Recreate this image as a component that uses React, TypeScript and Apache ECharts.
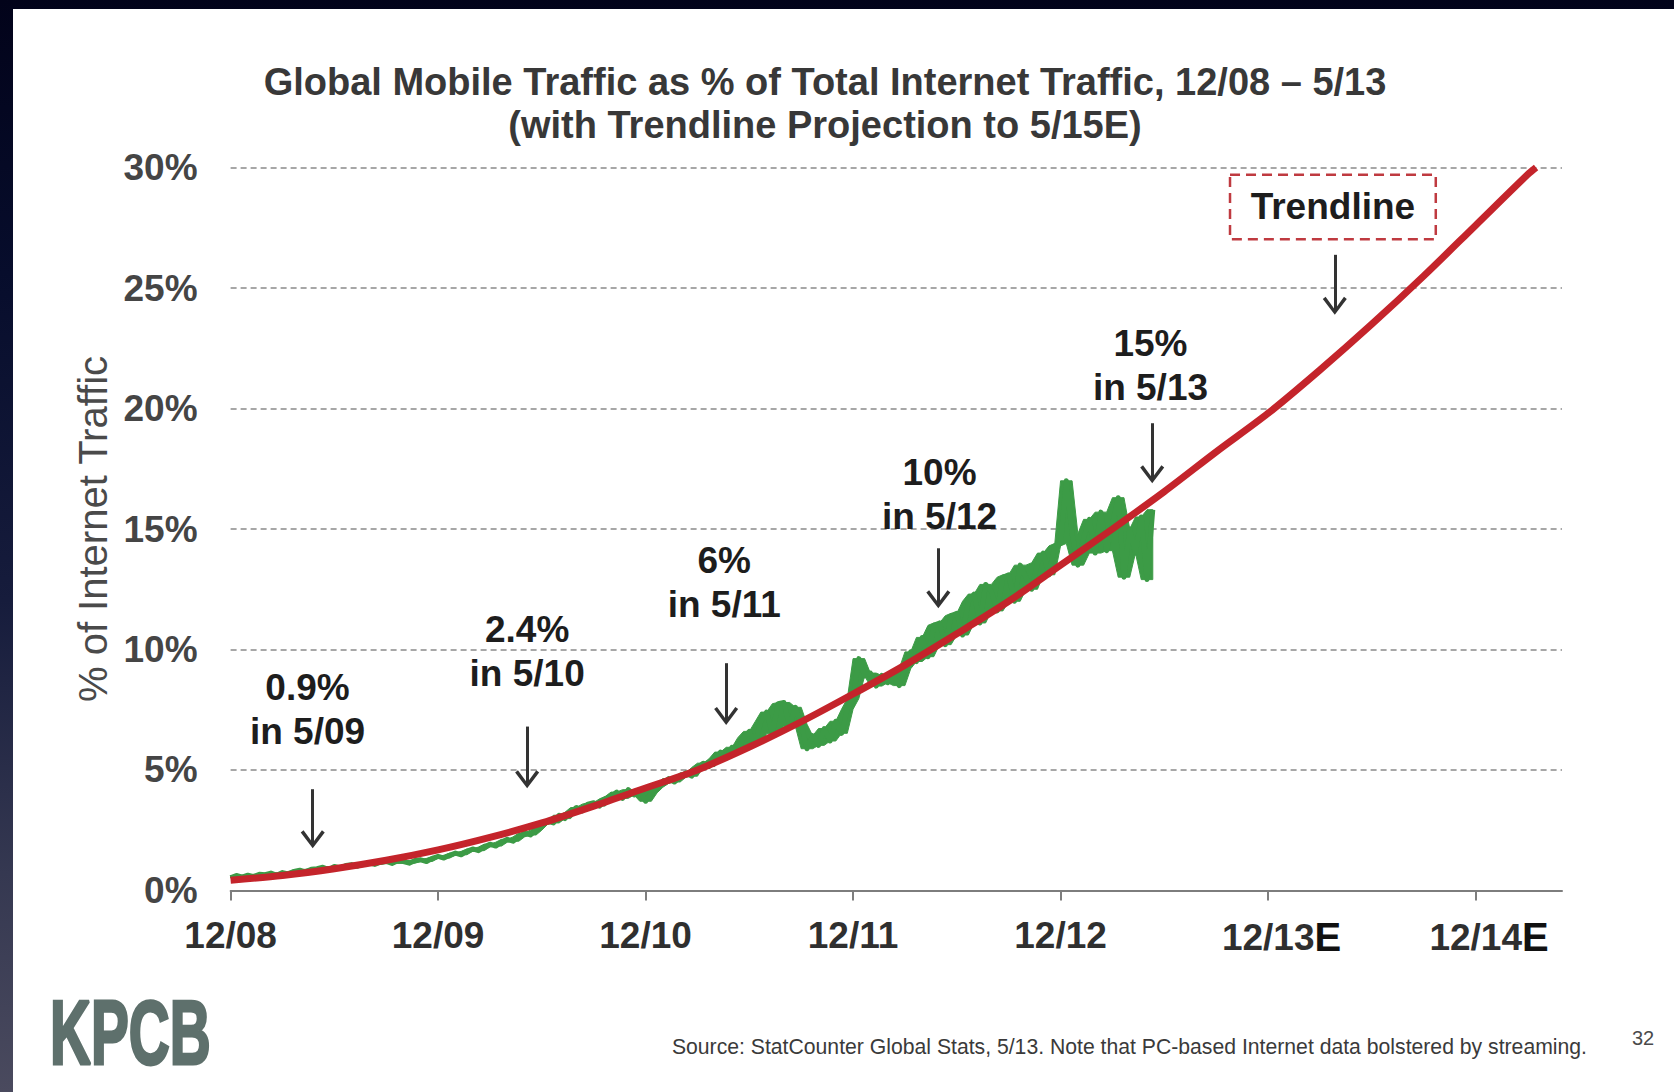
import React, { useEffect, useRef } from 'react';
import * as echarts from 'echarts';

const FONT = '"Liberation Sans", Arial, Helvetica, sans-serif';

// ---------- texts ----------
const TITLE_LINES = [
  'Global Mobile Traffic as % of Total Internet Traffic, 12/08 \u2013 5/13',
  '(with Trendline Projection to 5/15E)',
];
const Y_AXIS_NAME = '% of Internet Traffic';
const SOURCE_TEXT =
  'Source: StatCounter Global Stats, 5/13. Note that PC-based Internet data bolstered by streaming.';
const PAGE_NUMBER = '32';
const LOGO_TEXT = 'KPCB';
const TRENDLINE_TEXT = 'Trendline';

// ---------- axes (x in months since 12/08) ----------
const X_MIN_MONTH = 0;
const X_MAX_MONTH = 77; // 5/15
const X_TICK_MONTHS = [0, 12, 24, 36, 48, 60, 72];
const X_TICK_LABELS = ['12/08', '12/09', '12/10', '12/11', '12/12', '12/13', '12/14'];
const X_TICK_ESTIMATE = [false, false, false, false, false, true, true];
const Y_MIN = 0;
const Y_MAX = 30;
const Y_STEP = 5;

// ---------- actual mobile share (%), sampled every ~10 days from 12/08 ----------
const GREEN_START_MONTH = 0;
const GREEN_STEP_MONTHS = 1 / 3;
const GREEN_VALUES = [
  0.52, 0.62, 0.55, 0.63, 0.57, 0.67, 0.65, 0.72, 0.63, 0.74, 0.68, 0.79,
  0.84, 0.77, 0.88, 0.9, 0.96, 0.86, 0.99, 0.93, 1.03, 1.07, 1.0, 1.1,
  1.14, 1.08, 1.17, 1.2, 1.12, 1.23, 1.2, 1.13, 1.24, 1.27, 1.2, 1.33,
  1.41, 1.34, 1.46, 1.55, 1.48, 1.62, 1.72, 1.65, 1.8, 1.92, 1.84, 2.0,
  2.12, 2.04, 2.22, 2.38, 2.3, 2.5, 2.74, 2.88, 2.8, 3.12, 2.98, 3.24,
  3.44, 3.3, 3.58, 3.64, 3.5, 3.8, 3.9, 4.08, 3.82, 4.18, 3.96, 4.14,
  3.7, 4.05, 4.28, 4.44, 4.64, 4.5, 4.7, 4.88, 4.74, 5.1, 5.28, 5.14,
  5.46, 5.74, 5.5, 5.94, 5.74, 6.34, 6.6, 6.1, 7.0, 7.4, 6.5, 7.75,
  7.8, 6.8, 7.6, 6.9, 5.88, 6.42, 6.02, 6.72, 6.2, 7.02, 6.52, 7.52,
  7.96, 9.62, 8.9, 9.02, 8.48, 8.92, 8.62, 8.92, 8.5, 9.2, 9.9, 9.5,
  10.5, 9.7, 11.0, 11.1, 10.2, 11.4, 11.5, 10.6, 12.0, 12.3, 11.1, 12.7,
  12.4, 11.6, 13.0, 13.1, 12.0, 13.5, 13.0, 12.5, 13.6, 14.0, 13.1, 14.3,
  14.4, 17.0, 14.8, 13.5, 14.62, 15.4, 14.0, 15.7, 14.1, 15.2, 16.3, 13.0,
  15.0, 14.0, 15.5, 12.9, 15.8,
];

// ---------- trendline (%), quarterly readings ----------
const TREND_MONTHS = [
  0, 3, 6, 9, 12, 15, 18, 21, 24, 27, 30, 33, 36, 39, 42, 45, 48, 51, 54, 57, 60, 63, 66, 69, 72, 75, 75.5,
];
const TREND_VALUES = [
  0.42, 0.62, 0.9, 1.25, 1.68, 2.2, 2.8, 3.5, 4.25, 5.0, 5.95, 7.0, 8.15, 9.35, 10.65, 12.0, 13.5, 15.0,
  16.55, 18.2, 19.8, 21.6, 23.5, 25.5, 27.6, 29.7, 30.0,
];

// ---------- callouts (data coordinates) ----------
const CALLOUT_TEXTS = ['0.9%\nin 5/09', '2.4%\nin 5/10', '6%\nin 5/11', '10%\nin 5/12', '15%\nin 5/13'];
const CALLOUT_MONTHS = [4.45, 17.15, 28.55, 41.0, 53.2];
const CALLOUT_VALUES = [7.5, 9.91, 12.78, 16.45, 21.78];
const ARROW_MONTHS = [4.75, 17.15, 28.66, 40.93, 53.3, 63.86];
const ARROW_TOPS = [4.2, 6.8, 9.43, 14.2, 19.39, 26.38];
const ARROW_TIPS = [1.75, 4.24, 6.87, 11.71, 16.9, 23.89];
const TRENDLINE_BOX_MONTHS = [57.8, 69.7];
const TRENDLINE_BOX_VALUES = [29.7, 27.03];

const CHEVRON = 'path://M0,2.2 L2.8,0 L12,12.6 L21.2,0 L24,2.2 L12,18 Z';
const GREEN = '#3c9b46';

export default function App() {
  const ref = useRef<HTMLDivElement>(null);

  useEffect(() => {
    if (!ref.current) return;
    const chart = echarts.init(ref.current, undefined, { renderer: 'svg' });

    const n = GREEN_VALUES.length;
    const monthAt = (i: number) => GREEN_START_MONTH + i * GREEN_STEP_MONTHS;
    const greenData = GREEN_VALUES.map((v, i) => [monthAt(i), v]);
    // envelope of neighbouring samples, so the noisy series reads as a filled band
    const neighbours = (i: number) => GREEN_VALUES.slice(Math.max(0, i - 1), Math.min(n, i + 2));
    const bandUpper = GREEN_VALUES.map((_, i) => [monthAt(i), Math.max(...neighbours(i))]);
    const bandLower = GREEN_VALUES.map((_, i) => [monthAt(i), Math.min(...neighbours(i))]);
    const trendData = TREND_MONTHS.map((m, i) => [m, TREND_VALUES[i]]);

    const labelPoints = CALLOUT_TEXTS.map((t, i) => ({
      name: t,
      coord: [CALLOUT_MONTHS[i], CALLOUT_VALUES[i]],
      symbol: 'circle',
      symbolSize: 1,
      itemStyle: { color: 'rgba(0,0,0,0)' },
      label: {
        show: true,
        position: 'inside',
        formatter: '{b}',
        fontFamily: FONT,
        fontSize: 37,
        fontWeight: 'bold',
        color: '#1d1d1d',
        lineHeight: 44,
        align: 'center',
      },
    }));
    const headPoints = ARROW_MONTHS.map((m, i) => ({
      name: 'head' + i,
      coord: [m, ARROW_TIPS[i]],
      symbol: CHEVRON,
      symbolSize: [24, 18],
      symbolOffset: [0, '-50%'],
      itemStyle: { color: '#333333' },
      label: { show: false },
    }));
    const shafts = ARROW_MONTHS.map((m, i) => [
      { coord: [m, ARROW_TOPS[i]] },
      { coord: [m, ARROW_TIPS[i] + 0.12] },
    ]);

    const option: any = {
      animation: false,
      backgroundColor: '#ffffff',
      grid: { left: 217.6, right: 112, top: 158.6, bottom: 201.6, containLabel: false },
      xAxis: {
        type: 'value',
        min: X_MIN_MONTH,
        max: X_MAX_MONTH,
        interval: 12,
        axisLine: { show: true, onZero: false, lineStyle: { color: '#7d7d7d', width: 2 } },
        axisTick: {
          show: true,
          customValues: X_TICK_MONTHS,
          length: 10,
          lineStyle: { color: '#7d7d7d', width: 2 },
        },
        splitLine: { show: false },
        axisLabel: {
          customValues: X_TICK_MONTHS,
          margin: 27,
          fontFamily: FONT,
          fontSize: 37,
          fontWeight: 'bold',
          color: '#2f2f2f',
          formatter: (v: number) => {
            const i = X_TICK_MONTHS.indexOf(v);
            if (i < 0) return '';
            return X_TICK_ESTIMATE[i] ? '{p|}' + X_TICK_LABELS[i] + '{e|E}' : X_TICK_LABELS[i];
          },
          rich: {
            p: { width: 27, fontSize: 37 },
            e: { fontFamily: FONT, fontSize: 40, fontWeight: 900, color: '#111111' },
          },
        },
      },
      yAxis: {
        type: 'value',
        min: Y_MIN,
        max: Y_MAX,
        interval: Y_STEP,
        name: Y_AXIS_NAME,
        nameLocation: 'middle',
        nameGap: 114,
        nameTextStyle: { fontFamily: FONT, fontSize: 40, color: '#4a4a4a' },
        axisLine: { show: false },
        axisTick: { show: false },
        axisLabel: {
          formatter: '{value}%',
          margin: 33,
          fontFamily: FONT,
          fontSize: 37,
          fontWeight: 'bold',
          color: '#454545',
        },
        splitLine: { show: true, lineStyle: { type: [6, 4], color: '#8a8a8a', width: 1.5 } },
      },
      series: [
        {
          name: 'band',
          type: 'custom',
          silent: true,
          z: 1,
          data: [0],
          renderItem: (_params: any, api: any) => {
            const pts = bandUpper
              .map((p) => api.coord(p))
              .concat(bandLower.slice().reverse().map((p) => api.coord(p)));
            return {
              type: 'polygon',
              shape: { points: pts },
              style: { fill: GREEN, stroke: GREEN, lineWidth: 1 },
            };
          },
        },
        {
          name: 'Mobile share',
          type: 'line',
          data: greenData,
          symbol: 'none',
          z: 2,
          lineStyle: { color: GREEN, width: 5, join: 'round' },
        },
        {
          name: 'Trendline',
          type: 'line',
          data: trendData,
          smooth: 0.3,
          symbol: 'none',
          z: 3,
          lineStyle: { color: '#c4242b', width: 7 },
          markLine: {
            silent: true,
            symbol: ['none', 'none'],
            label: { show: false },
            lineStyle: { color: '#333333', width: 3, type: 'solid' },
            data: shafts,
          },
          markPoint: {
            silent: true,
            data: [...labelPoints, ...headPoints],
          },
          markArea: {
            silent: true,
            itemStyle: {
              color: 'rgba(0,0,0,0)',
              borderColor: '#bf3a40',
              borderWidth: 2.5,
              borderType: [10, 6],
            },
            label: {
              show: true,
              position: 'inside',
              formatter: TRENDLINE_TEXT,
              fontFamily: FONT,
              fontSize: 37,
              fontWeight: 'bold',
              color: '#1d1d1d',
            },
            data: [
              [
                { coord: [TRENDLINE_BOX_MONTHS[0], TRENDLINE_BOX_VALUES[0]] },
                { coord: [TRENDLINE_BOX_MONTHS[1], TRENDLINE_BOX_VALUES[1]] },
              ],
            ],
          },
        },
      ],
      graphic: [
        {
          type: 'text',
          x: 812,
          y: 73,
          style: {
            text: TITLE_LINES[0],
            fill: '#383838',
            fontFamily: FONT,
            fontSize: 38,
            fontWeight: 'bold',
            align: 'center',
            verticalAlign: 'middle',
          },
        },
        {
          type: 'text',
          x: 812,
          y: 116,
          style: {
            text: TITLE_LINES[1],
            fill: '#383838',
            fontFamily: FONT,
            fontSize: 38,
            fontWeight: 'bold',
            align: 'center',
            verticalAlign: 'middle',
          },
        },
        {
          type: 'text',
          x: 37,
          y: 1024,
          scaleX: 0.63,
          style: {
            text: LOGO_TEXT,
            fill: '#5e706c',
            stroke: '#5e706c',
            lineWidth: 3,
            fontFamily: FONT,
            fontSize: 90,
            fontWeight: 'bold',
            align: 'left',
            verticalAlign: 'middle',
          },
        },
        {
          type: 'text',
          x: 1574,
          y: 1037,
          style: {
            text: SOURCE_TEXT,
            fill: '#3a3a3a',
            fontFamily: FONT,
            fontSize: 21.2,
            align: 'right',
            verticalAlign: 'middle',
          },
        },
        {
          type: 'text',
          x: 1630,
          y: 1029,
          style: {
            text: PAGE_NUMBER,
            fill: '#4a4a4a',
            fontFamily: FONT,
            fontSize: 20,
            align: 'center',
            verticalAlign: 'middle',
          },
        },
      ],
    };

    chart.setOption(option);
    return () => {
      chart.dispose();
    };
  }, []);

  return (
    <div
      style={{
        position: 'absolute',
        left: 0,
        top: 0,
        width: 1674,
        height: 1092,
        overflow: 'hidden',
        background:
          'linear-gradient(180deg, #02031a 0%, #070d2c 25%, #161c3c 55%, #353851 80%, #4a4a5e 100%)',
      }}
    >
      <div
        ref={ref}
        style={{ position: 'absolute', left: 13, top: 9, width: 1661, height: 1083, background: '#ffffff' }}
      />
    </div>
  );
}
